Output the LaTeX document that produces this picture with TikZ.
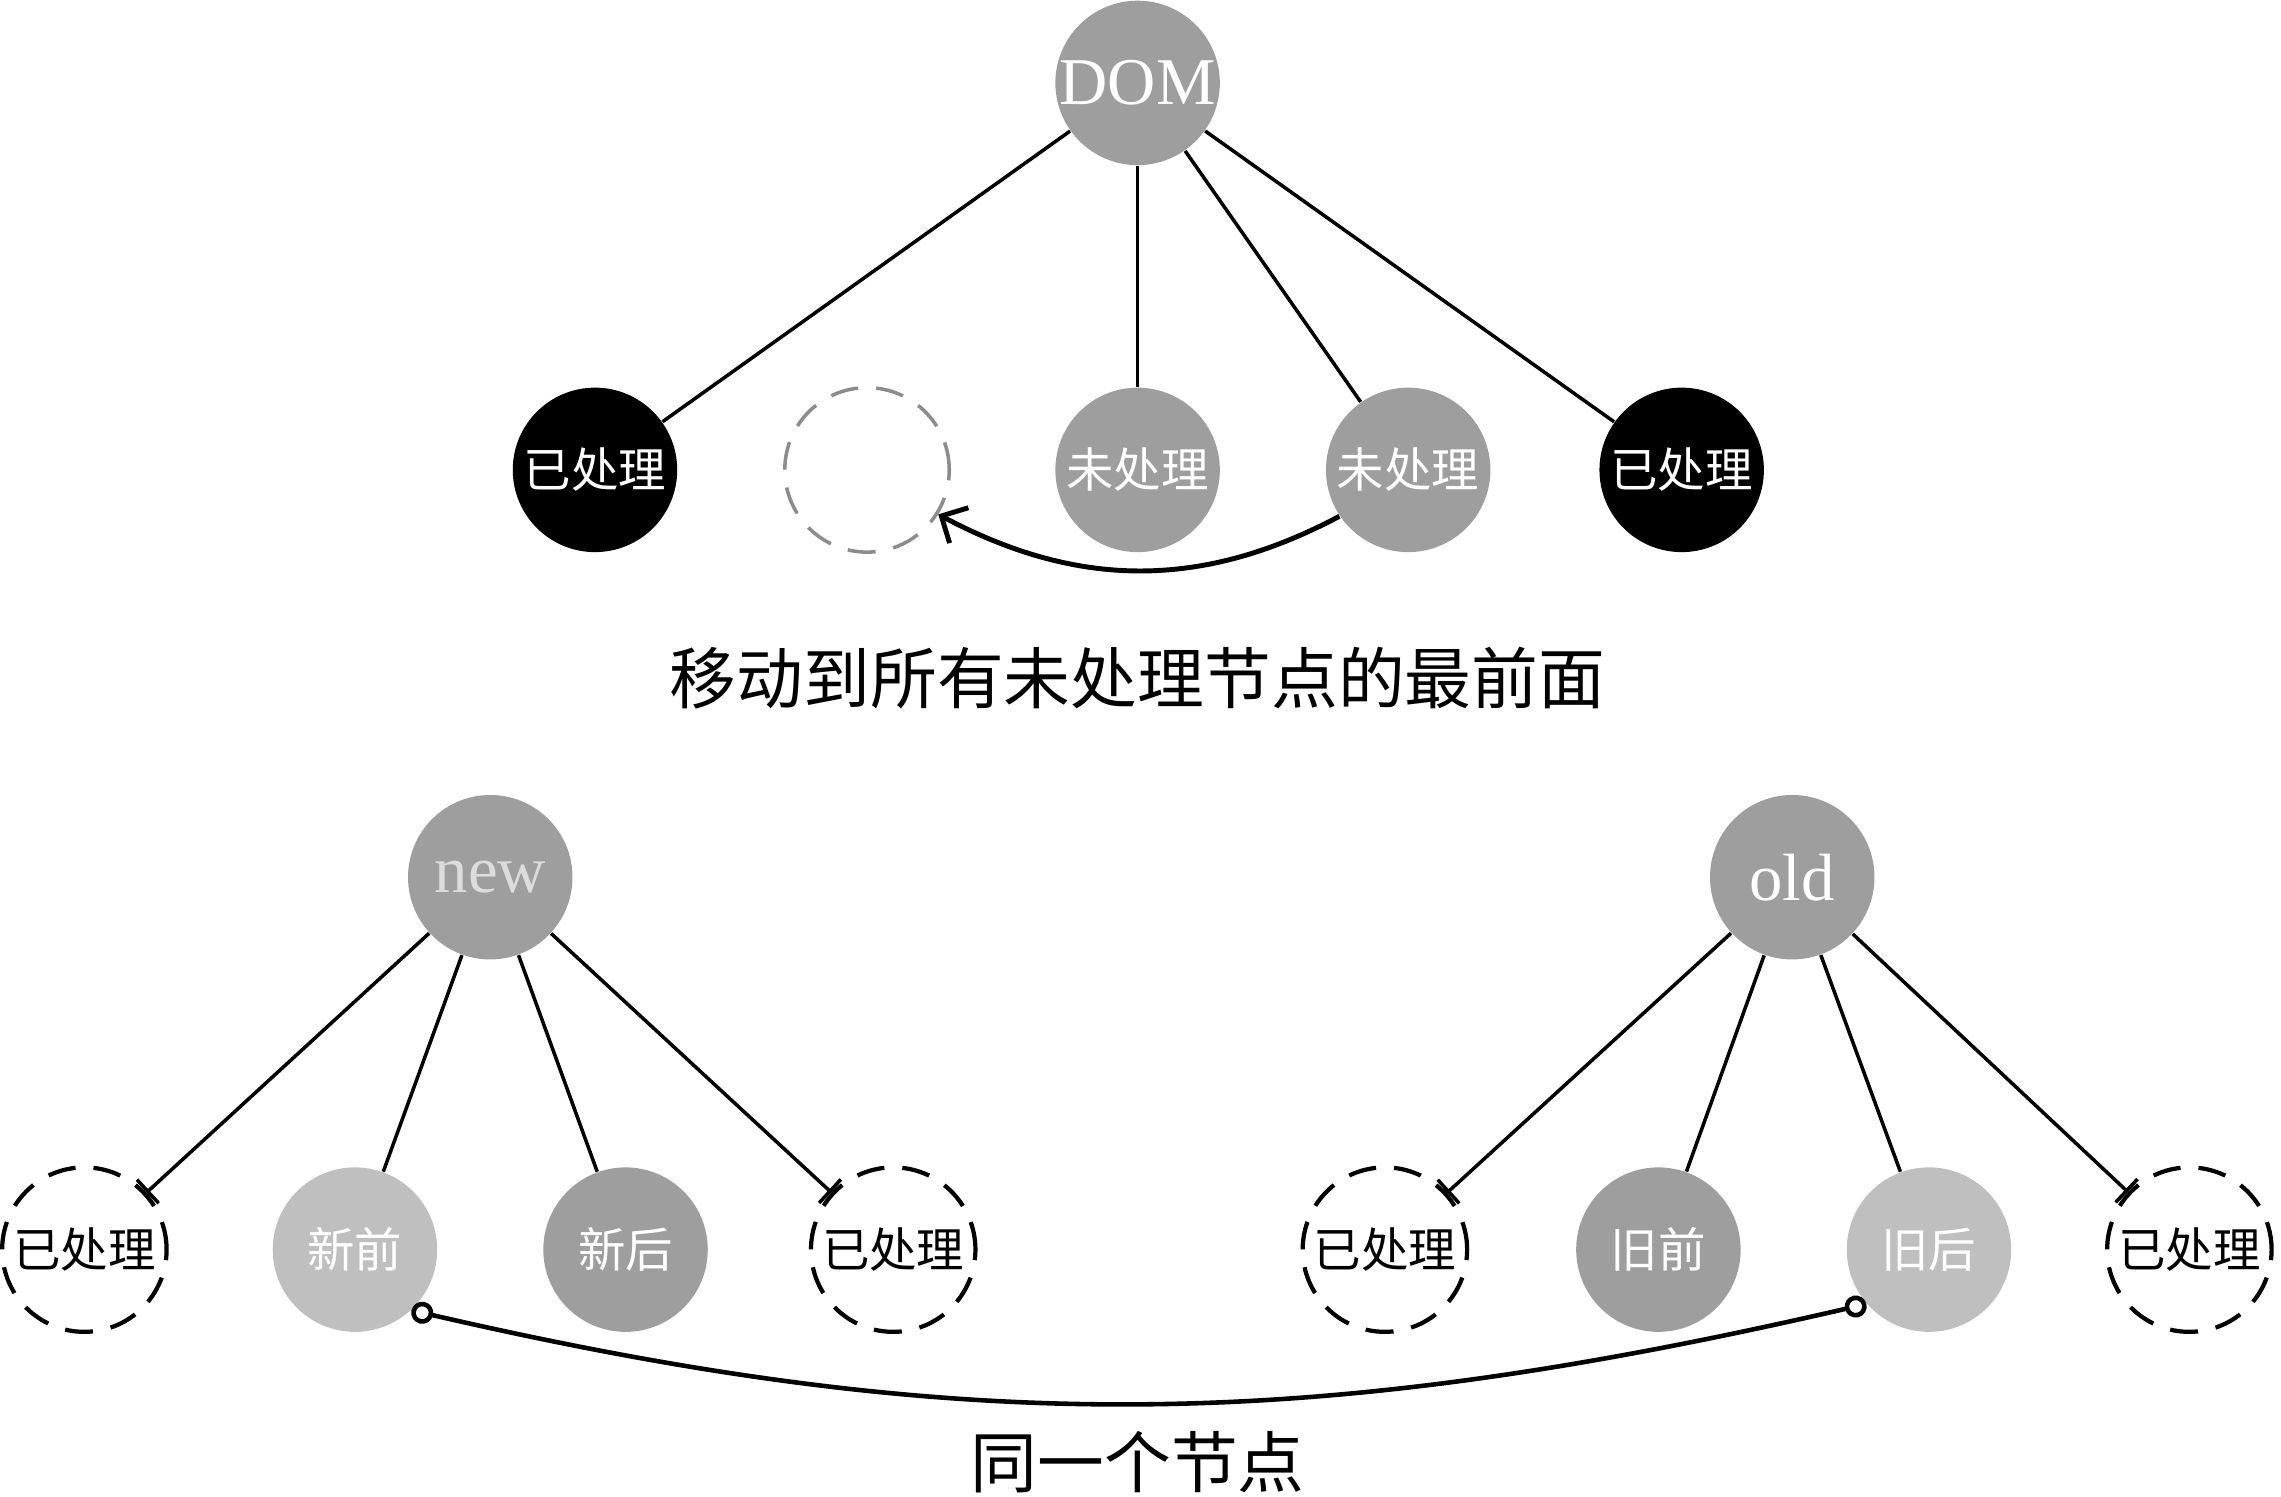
\documentclass[tikz,border=0pt]{standalone}
\usepackage{fontspec}
\setmainfont{Liberation Serif}
\newfontfamily\cjk{Noto Sans CJK SC}
\usetikzlibrary{arrows.meta}
\definecolor{midgray}{HTML}{9E9E9E}
\definecolor{palegray}{HTML}{BFBFBF}
\definecolor{softwhite}{HTML}{DCDCDC}
\definecolor{dashgray}{HTML}{8C8C8C}

\begin{document}
\begin{tikzpicture}[x=0.014547cm, y=-0.014547cm,
    vertex/.style={circle, minimum size=1.644cm, inner sep=0pt, font=\cjk\fontsize{13.5pt}{16pt}\selectfont},
    latin/.style={font=\fontsize{19pt}{22pt}\selectfont},
    done/.style={vertex, fill=black, text=white},
    todo/.style={vertex, fill=midgray, text=white},
    pale/.style={vertex, fill=palegray, text=white},
    ghost/.style={vertex, draw=dashgray, dash pattern=on 0.28cm off 0.18cm, line width=1pt},
    holder/.style={vertex, draw, dash pattern=on 0.28cm off 0.18cm, line width=1.2pt},
    caption/.style={font=\cjk\fontsize{19pt}{22pt}\selectfont},
    edge/.style={line width=1pt},
    stop/.style={-{Bar[width=3.2mm]}}]
            \useasboundingbox (0,0) rectangle (1568,1029);
            % first picture: DOM
            \node[todo, latin] (D) at (782,57) {DOM};
            \node[done] (A1) at (409,323) {已处理};
            \node[ghost] (G) at (596,323) {};
            \node[todo] (U1) at (782,323) {未处理};
            \node[todo] (U2) at (968,323) {未处理};
            \node[done] (A2) at (1156,323) {已处理};
            \draw[edge] (D) -- (A1);
            \draw[edge] (D) -- (U1);
            \draw[edge] (D) -- (U2);
            \draw[edge] (D) -- (A2);
            \draw[line width=1.4pt, -{Straight Barb[length=2mm, width=4mm]}] (U2.-146) to[out=-152, in=-28] (G.-32);
            \node[caption] (C1) at (782,466) {移动到所有未处理节点的最前面};
            % second picture: new and old
            \node[todo, latin, text=softwhite] (N) at (337,603) {new};
            \node[holder] (N1) at (58,859) {已处理};
            \node[pale] (N2) at (244,859) {新前};
            \node[todo] (N3) at (430,859) {新后};
            \node[holder] (N4) at (614,859) {已处理};
            \node[todo, latin] (O) at (1232,603) {old};
            \node[holder] (O1) at (952,859) {已处理};
            \node[todo] (O2) at (1140,859) {旧前};
            \node[pale] (O3) at (1326,859) {旧后};
            \node[holder] (O4) at (1505,859) {已处理};
            \draw[edge, stop] (N) -- (N1);
            \draw[edge] (N) -- (N2);
            \draw[edge] (N) -- (N3);
            \draw[edge, stop] (N) -- (N4);
            \draw[edge, stop] (O) -- (O1);
            \draw[edge] (O) -- (O2);
            \draw[edge] (O) -- (O3);
            \draw[edge, stop] (O) -- (O4);
            %\draw[edge] (N2) -- (O3);
            \draw[line width=1.3pt, {Circle[open, length=2.2mm, width=2.2mm]}-{Circle[open, length=2.2mm, width=2.2mm]}] (N2.-47) to[out=-13, in=-167] (O3.-139);
            \node[caption] (C2) at (782,1005) {同一个节点};
        \end{tikzpicture}
\end{document}
